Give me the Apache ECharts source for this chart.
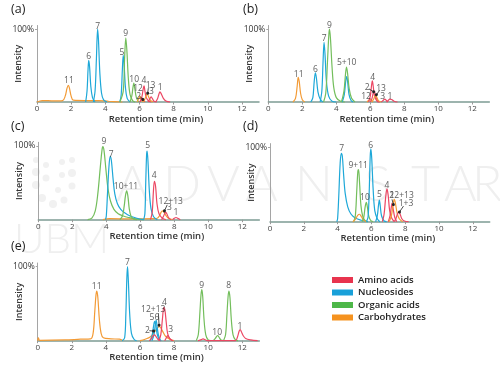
<!DOCTYPE html>
<html><head><meta charset="utf-8">
<script src="https://cdn.jsdelivr.net/npm/echarts@6/dist/echarts.min.js"></script>
<style>html,body{margin:0;padding:0;background:#fff}#c{width:500px;height:367px}</style>
</head><body><div id="c"></div>
<script>
// ---------- data: [retention time (min), intensity (%)] ----------
const xTicks = [0, 2, 4, 6, 8, 10, 12];
const classNames = ['Amino acids', 'Nucleosides', 'Organic acids', 'Carbohydrates'];
// panel (a)
const a11 = [[0,0],[0.3,2],[1.0,1.5],[1.5,2],[1.65,8],[1.76,19],[1.84,23],[1.9,19],[2.0,8],[2.12,2.5],[2.8,2],[3.6,2],[4.2,1],[5,0]];
const a6 = [[2.85,0],[2.93,15],[2.99,45],[3.03,57],[3.08,48],[3.15,22],[3.25,6],[3.4,0]];
const a7 = [[3.3,0],[3.4,15],[3.48,60],[3.55,100],[3.6,85],[3.68,40],[3.78,12],[3.9,3],[4.1,0]];
const a5 = [[4.85,0],[4.93,10],[5.0,45],[5.05,64],[5.1,52],[5.18,20],[5.28,5],[5.45,0]];
const a9 = [[4.85,0],[5.05,15],[5.13,60],[5.2,88],[5.26,72],[5.35,32],[5.45,10],[5.6,2],[5.75,0]];
const a10 = [[5.45,0],[5.55,8],[5.62,20],[5.67,26],[5.73,18],[5.82,6],[5.95,0]];
const a12 = [[5.85,0],[5.95,4],[6.02,8],[6.08,5],[6.2,0]];
const a2 = [[6.0,0],[6.1,3],[6.18,5],[6.24,3],[6.32,0]];
const a4 = [[6.05,0],[6.15,8],[6.22,18],[6.27,22],[6.32,15],[6.4,6],[6.55,1],[6.7,0]];
const a13 = [[6.25,0],[6.35,6],[6.45,11],[6.52,8],[6.62,3],[6.8,0]];
const a3 = [[6.5,0],[6.6,4],[6.68,7],[6.75,5],[6.85,1],[7.0,0]];
const a1 = [[6.95,0],[7.05,4],[7.13,10],[7.2,14],[7.28,11],[7.4,5],[7.55,1.5],[7.8,0]];
const labelsA = [['11',1.87,29],['6',3.02,62],['7',3.55,104],['5',4.97,67.5],['9',5.2,94],['10',5.69,31],['4',6.26,29],['13',6.65,23],['12',5.92,18],['3',6.7,14],['2',5.95,7],['1',7.21,20]];
const arrowsA = [[6.05,7,6.2,3.5],[6.52,19,6.48,12]];
// panel (b)
const b11 = [[1.45,0],[1.6,5],[1.7,22],[1.76,34],[1.82,28],[1.9,12],[2.0,3],[2.15,0]];
const b6 = [[2.5,0],[2.62,6],[2.7,28],[2.77,40],[2.83,33],[2.92,14],[3.05,4],[3.2,0]];
const b7 = [[3.05,0],[3.15,15],[3.22,55],[3.28,82],[3.34,64],[3.42,28],[3.55,8],[3.75,1],[4.0,0]];
const b9 = [[3.25,0],[3.38,12],[3.48,55],[3.56,92],[3.6,100],[3.66,86],[3.75,48],[3.85,20],[4.0,6],[4.25,1],[4.5,0]];
const b5 = [[4.35,0],[4.47,10],[4.55,28],[4.61,35],[4.67,27],[4.75,10],[4.87,2],[5.0,0]];
const b10 = [[4.3,0],[4.45,15],[4.54,38],[4.6,48],[4.66,40],[4.76,18],[4.9,5],[5.1,0]];
const b12 = [[5.8,0],[5.9,2],[5.98,4],[6.06,2],[6.15,0]];
const b4 = [[5.9,0],[6.0,8],[6.07,22],[6.12,29],[6.17,22],[6.25,8],[6.4,1],[6.55,0]];
const b2 = [[6.0,0],[6.1,5],[6.18,13],[6.24,15],[6.3,9],[6.4,3],[6.55,0]];
const b13 = [[6.1,0],[6.2,4],[6.3,9],[6.37,7],[6.48,2],[6.65,0]];
const b3 = [[6.65,0],[6.75,2],[6.85,4],[6.95,2],[7.05,0]];
const b1 = [[6.95,0],[7.05,2],[7.15,4],[7.25,3.5],[7.4,1],[7.6,0]];
const labelsB = [['11',1.79,38],['6',2.77,44.6],['7',3.28,87],['9',3.59,105],['5+10',4.61,54],['4',6.14,34],['2',5.82,20],['13',6.63,19],['12',5.75,8],['3',6.73,8],['1',7.16,8]];
const arrowsB = [[5.92,18,6.2,14],[6.55,16,6.36,10]];
// panel (c)
const c9 = [[2.9,0],[3.15,2],[3.35,12],[3.5,35],[3.65,72],[3.75,95],[3.8,99],[3.87,93],[3.97,70],[4.1,42],[4.25,25],[4.45,14],[4.7,8],[5.0,5],[5.3,3],[5.7,1],[6.2,0]];
const c7 = [[3.95,0],[4.0,5],[4.07,35],[4.15,70],[4.23,86],[4.3,80],[4.4,55],[4.5,35],[4.65,22],[4.85,14],[5.1,9],[5.4,5],[5.8,2],[6.2,0]];
const c10 = [[4.8,0],[4.95,5],[5.05,18],[5.13,33],[5.2,39],[5.27,32],[5.35,15],[5.45,5],[5.6,1],[5.8,0]];
const c5 = [[6.2,0],[6.27,8],[6.32,50],[6.37,88],[6.4,93],[6.45,80],[6.53,40],[6.63,15],[6.78,4],[7.0,0]];
const c4 = [[6.6,0],[6.7,10],[6.77,38],[6.83,52],[6.9,45],[6.98,22],[7.1,8],[7.3,2],[7.5,0]];
const c12 = [[3.8,0],[4.2,1.5],[5.5,1],[6.8,1.5],[7.0,2],[7.12,5],[7.22,10],[7.3,12],[7.4,10],[7.5,6],[7.65,2],[7.9,0]];
const c3 = [[7.25,0],[7.35,4],[7.45,9],[7.5,10],[7.56,8],[7.66,3],[7.8,0]];
const c1 = [[7.9,0],[8.0,2],[8.1,3],[8.2,2],[8.35,0]];
const labelsC = [['9',3.86,106],['7',4.28,89],['10+11',5.16,45],['5',6.43,100.6],['4',6.82,60],['12+13',7.79,25],['3',7.71,16],['1',8.1,9]];
const arrowsC = [[7.58,20,7.42,12]];
// panel (d)
const d7 = [[3.95,0],[4.0,4],[4.07,35],[4.15,78],[4.22,92],[4.28,88],[4.36,62],[4.45,38],[4.6,20],[4.8,10],[5.05,5],[5.4,2],[5.8,0]];
const d9 = [[4.95,0],[5.05,8],[5.13,40],[5.2,68],[5.24,70],[5.3,52],[5.38,22],[5.48,8],[5.6,2],[5.75,0]];
const d11 = [[4.9,0],[5.05,3],[5.2,9],[5.3,10],[5.4,7],[5.55,2],[5.7,0]];
const d10 = [[5.45,0],[5.55,6],[5.63,20],[5.7,26],[5.76,20],[5.85,7],[5.98,1],[6.1,0]];
const d6 = [[5.7,0],[5.8,6],[5.87,40],[5.93,88],[5.97,98],[6.02,85],[6.1,45],[6.2,15],[6.35,4],[6.5,0]];
const d5 = [[6.25,0],[6.35,8],[6.42,22],[6.47,29],[6.52,22],[6.6,8],[6.75,1],[6.9,0]];
const d4 = [[6.65,0],[6.75,10],[6.85,34],[6.92,44],[6.99,36],[7.08,15],[7.2,5],[7.35,0]];
const d2 = [[7.0,0],[7.1,8],[7.18,20],[7.22,25],[7.28,18],[7.38,6],[7.5,0]];
const d12 = [[7.05,0],[7.18,8],[7.28,22],[7.35,30],[7.42,25],[7.52,12],[7.65,4],[7.85,0]];
const d1 = [[7.35,0],[7.45,4],[7.55,11],[7.62,13],[7.7,10],[7.8,4],[7.95,1],[8.2,0]];
const labelsD = [['7',4.24,97.7],['9+11',5.22,76],['10',5.62,32],['6',5.96,103],['5',6.47,36],['4',6.92,49],['2',7.2,35],['12+13',7.79,35],['1+3',8.05,24]];
const arrowsD = [[7.22,30,7.3,23],[7.9,21,7.66,13]];
// panel (e)
const e11 = [[0,0],[0.04,4],[0.12,0.5],[1.6,1],[2.5,2],[3.1,2.5],[3.25,10],[3.35,40],[3.42,62],[3.47,67],[3.53,58],[3.62,28],[3.72,10],[3.85,4],[4.3,2.5],[4.8,2],[5.0,0]];
const e7 = [[4.95,0],[5.1,4],[5.17,35],[5.23,85],[5.27,100],[5.32,80],[5.4,35],[5.5,10],[5.65,2],[5.8,0]];
const e5 = [[6.6,0],[6.72,8],[6.8,20],[6.86,26],[6.92,22],[7.0,10],[7.1,3],[7.25,0]];
const e6 = [[6.7,0],[6.82,8],[6.9,22],[6.95,28],[7.0,20],[7.08,8],[7.2,0]];
const e12 = [[6.0,0],[6.3,2],[6.6,5],[6.85,12],[7.05,18],[7.15,19],[7.3,14],[7.5,6],[7.75,2],[8.0,0]];
const e2 = [[6.55,0],[6.68,3],[6.78,7],[6.85,8],[6.93,6],[7.05,2],[7.2,0]];
const e4 = [[7.1,0],[7.22,8],[7.32,30],[7.4,45],[7.46,42],[7.54,25],[7.62,10],[7.75,3],[7.9,0]];
const e3 = [[7.45,0],[7.55,4],[7.62,7],[7.68,5],[7.78,2],[7.95,0]];
const e9 = [[9.3,0],[9.42,8],[9.52,40],[9.58,62],[9.63,69],[9.68,60],[9.76,28],[9.86,8],[10.0,1],[10.15,0]];
const e10 = [[10.3,0],[10.42,3],[10.5,6],[10.56,7],[10.63,5],[10.75,1],[10.9,0]];
const e8 = [[10.9,0],[11.02,8],[11.1,35],[11.17,60],[11.22,67],[11.28,58],[11.36,28],[11.46,8],[11.6,1],[11.75,0]];
const e1 = [[9.4,0],[9.6,1.5],[9.7,2.5],[9.85,1],[10.0,0],[11.6,0],[11.72,5],[11.82,13],[11.88,15],[11.95,12],[12.05,7],[12.2,3],[12.5,1],[12.9,0]];
const labelsE = [['11',3.46,73],['7',5.26,106],['12+13',6.78,41.5],['56',6.85,31],['4',7.43,51],['2',6.43,13.5],['3',7.8,14.5],['9',9.62,74],['10',10.53,11],['8',11.2,74],['1',11.87,19]];
const arrowsE = [[6.55,13.5,6.8,13],[7.08,37,7.12,21]];

// ---------- build ----------
const LINE = {'Amino acids':'#ec4763','Nucleosides':'#1ea8d8','Organic acids':'#73be5c','Carbohydrates':'#f39b36'};
const LEG = {'Amino acids':'#e8344e','Nucleosides':'#19a0d9','Organic acids':'#4db748','Carbohydrates':'#f5921f'};
const [AA, NU, OA, CH] = classNames;
const panels = [
  {traces:[[a11,CH],[a6,NU],[a7,NU],[a5,NU],[a9,OA],[a10,OA],[a12,CH],[a2,AA],[a4,AA],[a13,CH],[a3,AA],[a1,AA]], labels:labelsA, arrows:arrowsA, grid:{left:37,top:25.5,width:222,height:76.5}, tag:'(a)', tagPos:[11,3]},
  {traces:[[b11,CH],[b6,NU],[b7,NU],[b9,OA],[b5,NU],[b10,OA],[b12,CH],[b4,AA],[b2,AA],[b13,CH],[b3,AA],[b1,AA]], labels:labelsB, arrows:arrowsB, grid:{left:268.3,top:25.5,width:221,height:76.5}, tag:'(b)', tagPos:[243,3]},
  {traces:[[c12,CH],[c9,OA],[c7,NU],[c10,OA],[c5,NU],[c4,AA],[c3,AA],[c1,AA]], labels:labelsC, arrows:arrowsC, grid:{left:38.3,top:142.3,width:221,height:77.4}, tag:'(c)', tagPos:[11,120]},
  {traces:[[d7,NU],[d9,OA],[d11,CH],[d10,OA],[d6,NU],[d5,NU],[d4,AA],[d2,AA],[d12,CH],[d1,AA]], labels:labelsD, arrows:arrowsD, grid:{left:270,top:143.6,width:219.7,height:78.1}, tag:'(d)', tagPos:[243,120]},
  {traces:[[e11,CH],[e7,NU],[e12,CH],[e5,NU],[e6,NU],[e2,AA],[e4,AA],[e3,AA],[e9,OA],[e10,OA],[e8,OA],[e1,AA]], labels:labelsE, arrows:arrowsE, grid:{left:37.7,top:263,width:221.6,height:77.7}, tag:'(e)', tagPos:[11,240]}
];
const FONT = 'Open Sans';
const grid = [], xAxis = [], yAxis = [], series = [], graphic = [];

// watermark
const wm = [['A',133],['D',180],['V',224],['A',262],['N',312],['S',381],['T',428],['A',461],['R',489]];
wm.forEach(([t,x]) => graphic.push({type:'text', left:x-17, top:160, z:-10, silent:true,
  style:{text:t, fill:'#efefef', font:'300 50px Lato'}}));
graphic.push({type:'text', left:14, top:218, z:-10, silent:true, style:{text:'UBM', fill:'#efefef', font:'300 42px Lato'}});
const dots = [[36,160,3],[36,172,4],[36,185,4],[42,198,4],[53,204,4],[64,200,3.5],[46,165,3],[46,178,3.5],[58,190,3],[72,160,3],[72,173,4],[72,186,3.5],[62,162,3],[62,175,3]];
dots.forEach(([x,y,r]) => graphic.push({type:'circle', z:-10, silent:true, shape:{cx:x,cy:y,r:r}, style:{fill:'#f1f1f1'}}));

panels.forEach((p, i) => {
  grid.push(Object.assign({outerBoundsMode:'none', containLabel:false}, p.grid));
  xAxis.push({type:'value', gridIndex:i, min:0, max:13, interval:2,
    name:'Retention time (min)', nameLocation:'middle', nameGap:12, nameMoveOverlap:false,
    nameTextStyle:{fontFamily:FONT, fontSize:9.5, fontWeight:600, color:'#333', padding:[0,0,0,16]},
    axisLine:{onZero:false, lineStyle:{color:'#7d9c94', width:1.5}},
    axisTick:{show:true, length:2.5, inside:false, lineStyle:{color:'#999'}, customValues:xTicks},
    axisLabel:{fontFamily:FONT, fontSize:8, color:'#444', margin:3, customValues:xTicks, formatter:v => (v % 2 === 0 ? String(v) : '')},
    splitLine:{show:false}});
  yAxis.push({type:'value', gridIndex:i, min:0, max:105, interval:100,
    name:'Intensity', nameLocation:'middle', nameGap:14, nameMoveOverlap:false,
    nameTextStyle:{fontFamily:FONT, fontSize:9, fontWeight:600, color:'#333'},
    axisLine:{show:true, lineStyle:{color:'#a5a5a5', width:1}},
    axisTick:{show:true, length:2, lineStyle:{color:'#a5a5a5'}, customValues:[100]},
    axisLabel:{fontFamily:FONT, fontSize:8.5, color:'#333', margin:3, customValues:[100], formatter:v => (v === 100 ? '100%' : '')},
    splitLine:{show:false}});
  p.traces.forEach(([d, cls]) => series.push({type:'line', name:cls, xAxisIndex:i, yAxisIndex:i, data:d,
    showSymbol:false, symbol:'none', smooth:0.35, clip:false, color:LINE[cls],
    lineStyle:{width:1.2, color:LINE[cls]}, emphasis:{disabled:true}, z:3}));
  series.push({type:'scatter', xAxisIndex:i, yAxisIndex:i, symbolSize:1, clip:false, silent:true, z:5,
    itemStyle:{color:'transparent'},
    data:p.labels.map(l => [l[1], l[2], l[0]]),
    label:{show:true, position:'inside', formatter:q => q.data[2], fontFamily:FONT, fontSize:8.5, color:'#333'},
    markLine:{silent:true, symbol:['none','circle'], symbolSize:3, animation:false,
      lineStyle:{color:'#222', width:0.8, type:'solid'}, label:{show:false},
      data:p.arrows.map(a => [{coord:[a[0],a[1]]},{coord:[a[2],a[3]]}])}});
  graphic.push({type:'text', left:p.tagPos[0], top:p.tagPos[1], style:{text:p.tag, font:'12.5px "Open Sans"', fill:'#222'}});
});

const chart = echarts.init(document.getElementById('c'), null, {renderer:'canvas'});
chart.setOption({
  animation:false,
  backgroundColor:'#fff',
  grid, xAxis, yAxis, series, graphic,
  legend:{orient:'vertical', left:327, top:269, itemWidth:21, itemHeight:6, itemGap:0.5, icon:'rect',
    selectedMode:false,
    textStyle:{fontFamily:FONT, fontSize:9.5, fontWeight:600, color:'#222', lineHeight:12, padding:[0,0,0,0]},
    data:classNames.map(n => ({name:n, itemStyle:{color:LEG[n]}}))}
});
</script></body></html>
